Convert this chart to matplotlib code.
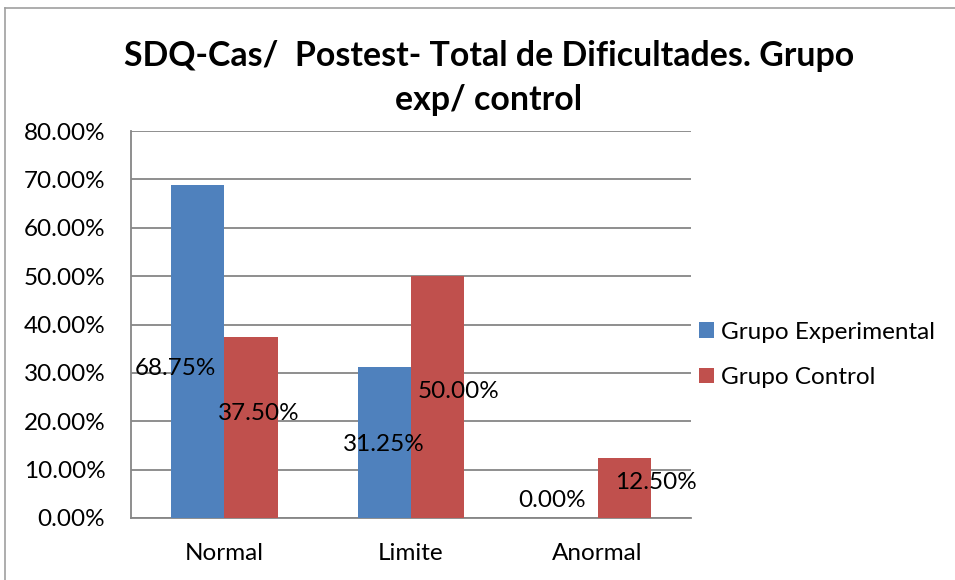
import matplotlib
matplotlib.use("Agg")
import matplotlib.pyplot as plt
from matplotlib.lines import Line2D
import numpy as np

categories = ["Normal", "Limite", "Anormal"]
series_names = ["Grupo Experimental", "Grupo Control"]
experimental = [68.75, 31.25, 0.00]
control = [37.50, 50.00, 12.50]
title = "SDQ-Cas/  Postest- Total de Dificultades. Grupo\nexp/ control"
yticks = [0, 10, 20, 30, 40, 50, 60, 70, 80]

# label placement offsets (relative to category centre, and vertical position in data units)
exp_label_dx = [-0.26, -0.143, -0.243]
exp_label_y = [31.0, 15.1, 3.7]
ctl_label_dx = [0.182, 0.253, 0.314]
ctl_label_y = [21.7, 26.2, 7.4]

blue = "#4F81BD"
red = "#C0504D"
grid_c = "#868686"
font = "Lato"
fs = 17.5

W, H = 955, 580
fig = plt.figure(figsize=(W / 100, H / 100), dpi=100)
ax = fig.add_axes([131 / W, 1 - 518 / H, (691 - 131) / W, (518 - 131) / H])

x = np.arange(len(categories))
bw = 0.2857
ax.bar(x - bw / 2, experimental, bw, color=blue, label=series_names[0], zorder=3)
ax.bar(x + bw / 2, control, bw, color=red, label=series_names[1], zorder=3)

for i, v in enumerate(experimental):
    ax.text(x[i] + exp_label_dx[i], exp_label_y[i], f"{v:.2f}%", ha="center", va="center",
            fontsize=fs, family=font, color="black", zorder=4, clip_on=False)
for i, v in enumerate(control):
    ax.text(x[i] + ctl_label_dx[i], ctl_label_y[i], f"{v:.2f}%", ha="center", va="center",
            fontsize=fs, family=font, color="black", zorder=4, clip_on=False)

ax.set_xlim(-0.5, 2.5)
ax.set_ylim(0, 80)
ax.set_yticks(yticks)
ax.set_yticklabels([f"{t:.2f}%" for t in yticks], family=font, fontsize=fs)
ax.set_xticks(x)
ax.set_xticklabels(categories, family=font, fontsize=fs)
ax.tick_params(axis="y", length=0, pad=18.5)
ax.tick_params(axis="x", length=0, pad=18)
ax.yaxis.grid(True, color=grid_c, linewidth=1.3, zorder=0)
for s in ["top", "right"]:
    ax.spines[s].set_visible(False)
ax.spines["left"].set_color(grid_c)
ax.spines["bottom"].set_color(grid_c)
ax.spines["left"].set_linewidth(1.3)
ax.spines["bottom"].set_linewidth(1.3)

fig.text(489 / W, 1 - 78 / H, title, ha="center", va="center", fontsize=24.4,
         fontweight="bold", family=font, linespacing=1.5)

leg = fig.legend(loc="upper left", bbox_to_anchor=(689 / W, 1 - 312 / H), frameon=False,
                 prop={"family": font, "size": fs}, handlelength=0.62, handleheight=0.62,
                 handletextpad=0.3, labelspacing=1.0, borderaxespad=0)

fig.add_artist(Line2D([5 / W, 1], [1 - 8 / H, 1 - 8 / H], color="#A0A0A0", linewidth=1.2))
fig.add_artist(Line2D([5 / W, 5 / W], [0, 1 - 8 / H], color="#A0A0A0", linewidth=1.2))

fig.savefig("out.png", dpi=100)
